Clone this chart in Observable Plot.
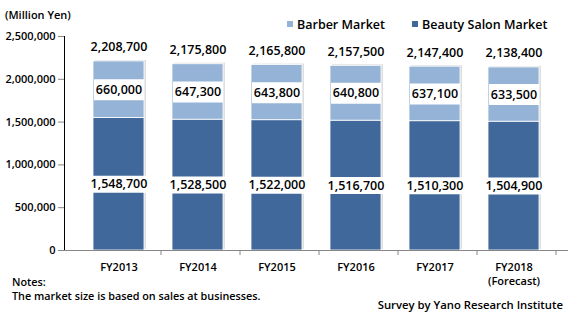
<!DOCTYPE html>
<html>
<head>
<meta charset="utf-8">
<script src="https://cdn.jsdelivr.net/npm/d3@7"></script>
<script src="https://cdn.jsdelivr.net/npm/@observablehq/plot@0.6"></script>
<style>
  body { margin: 0; background: #fff; }
  #wrap { position: relative; width: 575px; height: 317px; font-family: "Open Sans", sans-serif; font-weight: 600; color: #000; }
  .lbl { position: absolute; white-space: nowrap; line-height: 1; }
  .sw { display: inline-block; width: 6px; height: 6px; margin-right: 4px; vertical-align: 2px; }
  #wrap svg [aria-label^="y-axis"] path, #wrap svg [aria-label^="y-axis"] line { stroke: #868686; }
</style>
</head>
<body>
<div id="wrap">
  <div class="lbl" style="left:5px;top:9px;font-size:11px;">(Million Yen)</div>
  <div class="lbl" style="left:287px;top:19px;font-size:12.5px;"><span class="sw" style="background:#95b3d7"></span>Barber Market</div>
  <div class="lbl" style="left:412px;top:19px;font-size:12.5px;"><span class="sw" style="background:#41689a"></span>Beauty Salon Market</div>
  <div class="lbl" style="left:12px;top:277px;font-size:10.8px;">Notes:</div>
  <div class="lbl" style="left:12px;top:291px;font-size:10.8px;">The market size is based on sales at businesses.</div>
  <div class="lbl" style="right:12px;top:299px;font-size:11.3px;">Survey by Yano Research Institute</div>
</div>
<script>
const years = ["FY2013", "FY2014", "FY2015", "FY2016", "FY2017", "FY2018"];
const beautySalon = [1548700, 1528500, 1522000, 1516700, 1510300, 1504900];
const barber = [660000, 647300, 643800, 640800, 637100, 633500];
const totals = [2208700, 2175800, 2165800, 2157500, 2147400, 2138400];
const yTicks = [0, 500000, 1000000, 1500000, 2000000, 2500000];
const forecastYear = "FY2018";

const W = 575, H = 317, mL = 64, mR = 7, mT = 36, mB = 67;
const step = (W - mL - mR) / years.length;

const rows = [];
years.forEach((yr, i) => {
  rows.push({year: yr, series: "Beauty Salon Market", value: beautySalon[i], order: 0});
  rows.push({year: yr, series: "Barber Market", value: barber[i], order: 1});
});
const beautyLabels = years.map((yr, i) => ({year: yr, mid: beautySalon[i] / 2, text: d3.format(",")(beautySalon[i])}));
const barberLabels = years.map((yr, i) => ({year: yr, mid: beautySalon[i] + barber[i] / 2, text: d3.format(",")(barber[i])}));
const totalLabels = years.map((yr, i) => ({year: yr, total: totals[i], text: d3.format(",")(totals[i])}));
const xLabels = years.map(yr => ({year: yr, text: yr === forecastYear ? yr + "\n(Forecast)" : yr}));

function rectSymbol(w, h) {
  return {draw(ctx) { ctx.rect(-w / 2, -h / 2, w, h); }};
}

const chart = Plot.plot({
  width: W, height: H,
  marginLeft: mL, marginRight: mR, marginTop: mT, marginBottom: mB,
  style: {fontFamily: "Open Sans, sans-serif", fontSize: "11px", fontWeight: 600, background: "transparent", color: "#000"},
  x: {domain: years, padding: 0.35, label: null, axis: null},
  y: {domain: [0, 2500000], ticks: yTicks, tickFormat: d3.format(","), label: null, tickSize: 6, tickPadding: 3, line: true},
  color: {domain: ["Beauty Salon Market", "Barber Market"], range: ["#41689a", "#95b3d7"]},
  marks: [
    Plot.barY(totalLabels, {x: "year", y: "total", fill: "#c8c8c8", dx: 2, dy: -1, opacity: 0.6}),
    Plot.barY(rows, {x: "year", y: "value", fill: "series", order: "order", stroke: "white", strokeWidth: 0.8}),
    Plot.ruleY([0], {stroke: "#868686"}),
    Plot.ruleX(years, {x: d => d, dx: step / 2, y1: 0, y2: 0, insetBottom: -5, stroke: "#868686"}),
    Plot.text(xLabels, {x: "year", text: "text", frameAnchor: "bottom", lineAnchor: "top", dy: 10, lineHeight: 1.28, fontSize: 11, fill: "#000"}),
    Plot.dot(beautyLabels, {x: "year", y: "mid", r: 5, symbol: rectSymbol(58, 17), fill: "white", stroke: "none"}),
    Plot.text(beautyLabels, {x: "year", y: "mid", text: "text", fontSize: 12.5, fill: "#000"}),
    Plot.dot(barberLabels, {x: "year", y: "mid", r: 5, symbol: rectSymbol(50, 21), fill: "white", stroke: "none"}),
    Plot.text(barberLabels, {x: "year", y: "mid", text: "text", fontSize: 12.5, fill: "#000"}),
    Plot.text(totalLabels, {x: "year", y: "total", text: "text", dy: -14, fontSize: 12.5, fill: "#000"})
  ]
});
chart.style.position = "absolute";
chart.style.left = "0";
chart.style.top = "0";
document.getElementById("wrap").prepend(chart);
</script>
</body>
</html>
